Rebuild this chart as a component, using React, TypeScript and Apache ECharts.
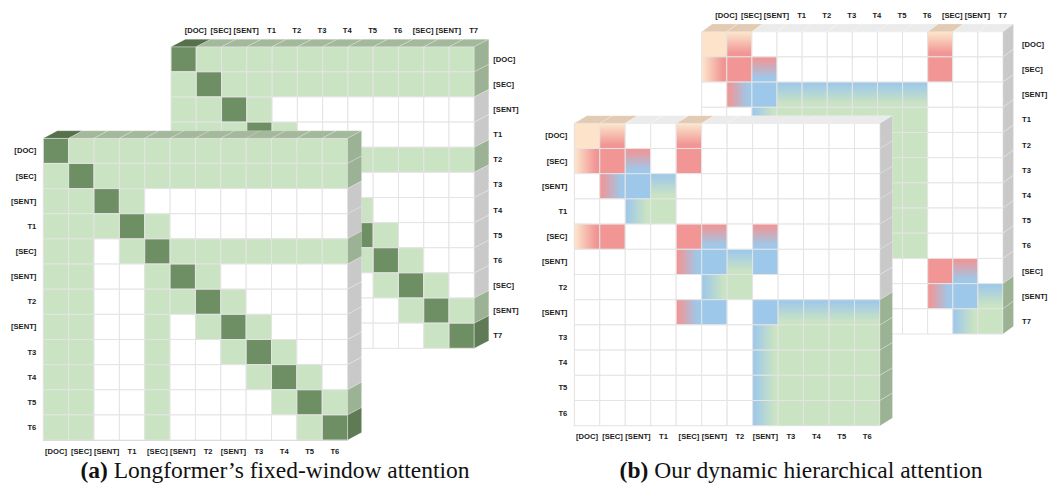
import React, { useEffect, useRef } from 'react';
import * as echarts from 'echarts';

// ---------------- data ----------------
const frontLabels = ['[DOC]', '[SEC]', '[SENT]', 'T1', '[SEC]', '[SENT]', 'T2', '[SENT]', 'T3', 'T4', 'T5', 'T6'];
const backLabels = ['[DOC]', '[SEC]', '[SENT]', 'T1', 'T2', 'T3', 'T4', 'T5', 'T6', '[SEC]', '[SENT]', 'T7'];

// W white, L light green, D dark green (Longformer)
const aBack = [
  'D L L L L L L L L L L L',
  'L D L L L L L L L L L L',
  'L L D L W W W W W W W W',
  'L L L D L W W W W W W W',
  'L L W L D L L L L L L L',
  'L L W W L D L W W W W W',
  'L L W W L L D L W W W W',
  'L L W W L W L D L W W W',
  'L L W W L W W L D L W W',
  'L L W W L W W W L D L W',
  'L L W W L W W W W L D L',
  'L L W W L W W W W W L D',
];
const aFront = [
  'D L L L L L L L L L L L',
  'L D L L L L L L L L L L',
  'L L D L W W W W W W W W',
  'L L L D L W W W W W W W',
  'L L W L D L L L L L L L',
  'L L W W L D L W W W W W',
  'L L W W L L D L W W W W',
  'L L W W L W L D L W W W',
  'L L W W L W W L D L W W',
  'L L W W L W W W L D L W',
  'L L W W L W W W W L D L',
  'L L W W L W W W W W L D',
];
// P peach, R red, B blue, G green; XYv vertical gradient X->Y, XYh horizontal gradient
const bBack = [
  'P PRv W W W W W W W PRv W W',
  'PRh R RBv W W W W W W R W W',
  'W RBh B BGv BGv BGv BGv BGv BGv W W W',
  'W W BGh G G G G G G W W W',
  'W W BGh G G G G G G W W W',
  'W W BGh G G G G G G W W W',
  'W W BGh G G G G G G W W W',
  'W W BGh G G G G G G W W W',
  'W W BGh G G G G G G W W W',
  'PRh R W W W W W W W R RBv W',
  'W W W W W W W W W RBh B BGv',
  'W W W W W W W W W W BGh G',
];
const bFront = [
  'P PRv W W PRv W W W W W W W',
  'PRh R RBv W R W W W W W W W',
  'W RBh B BGv W W W W W W W W',
  'W W BGh G W W W W W W W W',
  'PRh R W W R RBv W RBv W W W W',
  'W W W W RBh B BGv B W W W W',
  'W W W W W BGh G W W W W W',
  'W W W W RBh B W B BGv BGv BGv BGv',
  'W W W W W W W BGh G G G G',
  'W W W W W W W BGh G G G G',
  'W W W W W W W BGh G G G G',
  'W W W W W W W BGh G G G G',
];

const captionA = 'Longformer’s fixed-window attention';
const captionB = 'Our dynamic hierarchical attention';

// ---------------- styles ----------------
const base: Record<string, string> = {
  W: '#ffffff', L: '#cae3c3', D: '#6e8f63', P: '#fce3c9', R: '#f19595', B: '#9ec8ea', G: '#c9e3c3',
};
const topFace: Record<string, string> = {
  W: '#ebebeb', L: '#a4b89c', D: '#56704b', P: '#e3cbb3', G: '#9cb294',
};
const sideFace: Record<string, string> = {
  W: '#c9c9c9', L: '#9cb294', D: '#5f7b55', G: '#9cb294', P: '#e3cbb3', R: '#d08a8a', B: '#8fb0cc',
};

function fillFor(code: string) {
  if (code.length === 1) return base[code];
  const a = base[code[0]];
  const b = base[code[1]];
  const vertical = code[2] === 'v';
  return new echarts.graphic.LinearGradient(0, 0, vertical ? 0 : 1, vertical ? 1 : 0, [
    { offset: 0.05, color: a },
    { offset: 0.85, color: b },
  ]);
}
const startColor = (code: string) => code[0];
const endColor = (code: string) => (code.length === 1 ? code : code[1]);

const parse = (m: string[]) => m.map((r) => r.trim().split(/\s+/));

const LABEL_FONT = {
  fontFamily: 'Liberation Sans',
  fontWeight: 'bold' as const,
  fontSize: 7.6,
  lineHeight: 10,
  color: '#1a1a1a',
};

function buildGrid(idx: number, matrix: string[][], kind: 'front' | 'back', dx: number, dy: number, z: number) {
  const cells: number[][] = [];
  const codes: string[] = [];
  matrix.forEach((row, r) => row.forEach((code, c) => { cells.push([c, r]); codes.push(code); }));
  const n = matrix.length;
  const faces: number[][] = [];
  const faceInfo: { t: 'top' | 'side'; color: string }[] = [];
  for (let c = 0; c < n; c++) {
    faces.push([c, 0]);
    faceInfo.push({ t: 'top', color: topFace[startColor(matrix[0][c])] || '#ebebeb' });
  }
  for (let r = 0; r < n; r++) {
    faces.push([n - 1, r]);
    faceInfo.push({ t: 'side', color: sideFace[endColor(matrix[r][n - 1])] || '#c9c9c9' });
  }
  const cellSeries = {
    type: 'custom',
    xAxisIndex: idx,
    yAxisIndex: idx,
    z,
    silent: true,
    data: cells,
    renderItem: (params: any, api: any) => {
      const p = api.coord([api.value(0), api.value(1)]);
      const s = api.size([1, 1]);
      return {
        type: 'rect',
        shape: { x: p[0] - s[0] / 2, y: p[1] - s[1] / 2, width: s[0], height: s[1] },
        style: { fill: fillFor(codes[params.dataIndex]), stroke: '#e4e4e4', lineWidth: 1 },
      };
    },
  };
  const faceSeries = {
    type: 'custom',
    xAxisIndex: idx,
    yAxisIndex: idx,
    z: z + 1,
    silent: true,
    data: faces,
    renderItem: (params: any, api: any) => {
      const info = faceInfo[params.dataIndex];
      const p = api.coord([api.value(0), api.value(1)]);
      const s = api.size([1, 1]);
      let pts: number[][];
      if (info.t === 'top') {
        const x0 = p[0] - s[0] / 2, x1 = p[0] + s[0] / 2, y = p[1] - s[1] / 2;
        pts = [[x0, y], [x1, y], [x1 + dx, y + dy], [x0 + dx, y + dy]];
      } else {
        const x = p[0] + s[0] / 2, y0 = p[1] - s[1] / 2, y1 = p[1] + s[1] / 2;
        pts = [[x, y0], [x + dx, y0 + dy], [x + dx, y1 + dy], [x, y1]];
      }
      return {
        type: 'polygon',
        shape: { points: pts },
        style: { fill: info.color, stroke: 'rgba(255,255,255,0.28)', lineWidth: 0.8 },
      };
    },
  };
  const labels = kind === 'front' ? frontLabels : backLabels;
  const xAxis =
    kind === 'front'
      ? {
          type: 'category', gridIndex: idx, data: labels, position: 'bottom',
          axisTick: { show: false }, splitLine: { show: false },
          axisLine: { show: true, lineStyle: { color: '#cfcfcf' } },
          axisLabel: { ...LABEL_FONT, interval: 0, margin: 6 },
        }
      : {
          type: 'category', gridIndex: idx, data: labels, position: 'top',
          axisTick: { show: false }, splitLine: { show: false }, axisLine: { show: false },
          axisLabel: { ...LABEL_FONT, interval: 0, margin: 11, padding: [0, 0, 0, 24] },
        };
  const yAxis =
    kind === 'front'
      ? {
          type: 'category', gridIndex: idx, data: labels, position: 'left', inverse: true,
          axisTick: { show: false }, splitLine: { show: false },
          axisLine: { show: true, lineStyle: { color: '#cfcfcf' } },
          axisLabel: { ...LABEL_FONT, interval: 0, margin: 7 },
        }
      : {
          type: 'category', gridIndex: idx, data: labels, position: 'right', inverse: true,
          axisTick: { show: false }, splitLine: { show: false }, axisLine: { show: false },
          axisLabel: { ...LABEL_FONT, interval: 0, margin: 19, padding: [0, 0, 14, 0], align: 'left' },
        };
  return { xAxis, yAxis, series: [cellSeries, faceSeries] };
}

export default function App() {
  const ref = useRef<HTMLDivElement>(null);
  useEffect(() => {
    if (!ref.current) return;
    const chart = echarts.init(ref.current, undefined, { renderer: 'svg' });
    const grids = [
      { left: 171, top: 46.7, width: 303.3, height: 301.6 },
      { left: 43.3, top: 138.3, width: 304.3, height: 301.8 },
      { left: 701.7, top: 31.7, width: 301.3, height: 302.3 },
      { left: 574.3, top: 123.3, width: 305.7, height: 302.4 },
    ];
    const parts = [
      buildGrid(0, parse(aBack), 'back', 14.5, -7.5, 1),
      buildGrid(1, parse(aFront), 'front', 14, -7.5, 5),
      buildGrid(2, parse(bBack), 'back', 10.5, -7.7, 1),
      buildGrid(3, parse(bFront), 'front', 12.5, -7.6, 5),
    ];
    const captionStyle = (label: string, text: string) => ({
      text: '{b|' + label + '} ' + text,
      fontFamily: 'Liberation Serif', fontSize: 23.5, fill: '#111111',
      align: 'center', verticalAlign: 'middle',
      rich: { b: { fontFamily: 'Liberation Serif', fontSize: 23.5, fontWeight: 'bold', fill: '#111111' } },
    });
    const option: any = {
      animation: false,
      backgroundColor: '#ffffff',
      grid: grids.map((g) => ({ ...g, containLabel: false, show: false })),
      xAxis: parts.map((p) => p.xAxis),
      yAxis: parts.map((p) => p.yAxis),
      series: parts.flatMap((p) => p.series),
      graphic: [
        { type: 'text', x: 275, y: 470, z: 100, style: captionStyle('(a)', captionA) },
        { type: 'text', x: 801, y: 470, z: 100, style: captionStyle('(b)', captionB) },
      ],
    };
    chart.setOption(option);
    return () => chart.dispose();
  }, []);
  return (
    <div
      ref={ref}
      style={{ position: 'absolute', left: 0, top: 0, width: 1053, height: 487, background: '#fff' }}
    />
  );
}
